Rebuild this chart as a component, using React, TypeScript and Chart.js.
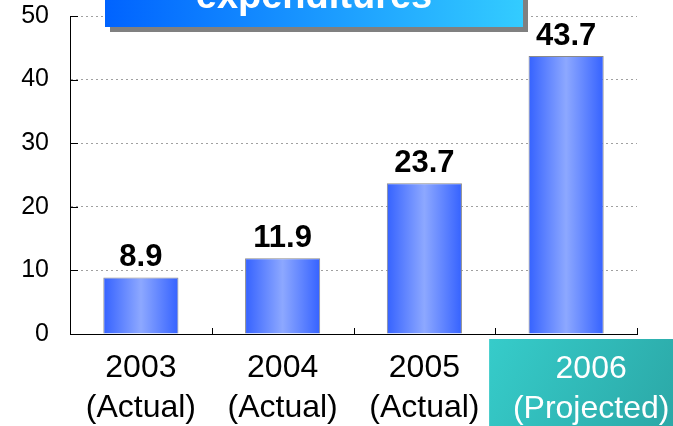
import React, { useEffect, useRef } from "react";
import { Chart, registerables } from "chart.js";

Chart.register(...registerables);

const categories: string[][] = [
  ["2003", "(Actual)"],
  ["2004", "(Actual)"],
  ["2005", "(Actual)"],
  ["2006", "(Projected)"],
];
const values: number[] = [8.9, 11.9, 23.7, 43.7];
const valueLabels: string[] = ["8.9", "11.9", "23.7", "43.7"];
const titleText = "expenditures";
const projectedIndex = 3;
const yMax = 50;
const yStep = 10;

const FONT = "'Liberation Sans', Arial, sans-serif";
const BAR_PCT = 0.53;

const decorPlugin = {
  id: "decor",
  beforeDraw(chart: any) {
    const { ctx, chartArea, scales } = chart;
    const x = scales.x;
    const c = x.getPixelForValue(projectedIndex);
    const left = c - 77;
    const top = chartArea.bottom + 5;
    const boxW = 204;
    const boxH = chart.height - top + 20;
    ctx.save();
    const g = ctx.createLinearGradient(left, top, left + boxW, top + boxH);
    g.addColorStop(0, "#36CCCA");
    g.addColorStop(1, "#2AA3A2");
    ctx.fillStyle = g;
    ctx.fillRect(left, top, boxW, boxH);
    ctx.fillStyle = "#ffffff";
    ctx.font = `32px ${FONT}`;
    ctx.textAlign = "center";
    ctx.textBaseline = "alphabetic";
    const tc = left + boxW / 2;
    ctx.fillText(categories[projectedIndex][0], tc, chartArea.bottom + 44);
    ctx.fillText(categories[projectedIndex][1], tc, chartArea.bottom + 84);
    ctx.restore();
  },
  afterDraw(chart: any) {
    const { ctx, chartArea, scales } = chart;
    const x = scales.x;
    const y = scales.y;
    ctx.save();
    ctx.strokeStyle = "#000";
    ctx.lineWidth = 1;
    y.ticks.forEach((t: any) => {
      const py = Math.round(y.getPixelForValue(t.value)) + 0.5;
      ctx.beginPath();
      ctx.moveTo(chartArea.left, py);
      ctx.lineTo(chartArea.left + 8, py);
      ctx.stroke();
    });
    const half = (chartArea.right - chartArea.left) / categories.length / 2;
    for (let i = 0; i < categories.length; i++) {
      const px = Math.round(x.getPixelForValue(i) + half) + 0.5;
      ctx.beginPath();
      ctx.moveTo(px, chartArea.bottom);
      ctx.lineTo(px, chartArea.bottom - 6);
      ctx.stroke();
    }
    const bl = 105, br = 523, bb = 27, bt = -40;
    ctx.fillStyle = "#808080";
    ctx.fillRect(bl + 5, bt + 5, br - bl, bb - bt);
    const g = ctx.createLinearGradient(bl, 0, br, 0);
    g.addColorStop(0, "#0063FF");
    g.addColorStop(1, "#33CCFF");
    ctx.fillStyle = g;
    ctx.fillRect(bl, bt, br - bl, bb - bt);
    ctx.fillStyle = "#ffffff";
    ctx.font = `bold 38px ${FONT}`;
    ctx.textAlign = "center";
    ctx.textBaseline = "alphabetic";
    ctx.fillText(titleText, (bl + br) / 2, 8);
    ctx.restore();
  },
  afterDatasetsDraw(chart: any) {
    const { ctx } = chart;
    const meta = chart.getDatasetMeta(0);
    ctx.save();
    ctx.fillStyle = "#000";
    ctx.font = `bold 31px ${FONT}`;
    ctx.textAlign = "center";
    ctx.textBaseline = "alphabetic";
    meta.data.forEach((el: any, i: number) => {
      ctx.fillText(valueLabels[i], el.x, el.y - 11);
    });
    ctx.restore();
  },
};

export default function App() {
  const ref = useRef<HTMLCanvasElement | null>(null);
  useEffect(() => {
    document.body.style.margin = "0";
    const canvas = ref.current!;
    const chart = new Chart(canvas, {
      type: "bar",
      data: {
        labels: categories,
        datasets: [
          {
            data: values,
            backgroundColor: (c: any) => {
              const ch = c.chart;
              const area = ch.chartArea;
              if (!area || !ch.scales.x) return "#5577FF";
              const cw = (area.right - area.left) / categories.length;
              const cx = ch.scales.x.getPixelForValue(c.dataIndex);
              const hw = (cw * BAR_PCT) / 2;
              const g = ch.ctx.createLinearGradient(cx - hw, 0, cx + hw, 0);
              g.addColorStop(0, "#3562FF");
              g.addColorStop(0.5, "#8DA8FF");
              g.addColorStop(1, "#3562FF");
              return g;
            },
            borderColor: "#8a8a8a",
            borderWidth: 1,
            barPercentage: BAR_PCT,
            categoryPercentage: 1,
          },
        ],
      },
      options: {
        responsive: false,
        animation: false,
        layout: { padding: { top: 16, right: 36, left: 0, bottom: 0 } },
        plugins: { legend: { display: false }, tooltip: { enabled: false }, title: { display: false } },
        scales: {
          x: {
            grid: { display: false, drawTicks: false },
            border: { display: true, color: "#000", width: 1 },
            ticks: {
              font: { family: FONT, size: 32, lineHeight: 1.25 },
              color: (c: any) => (c.index === projectedIndex ? "rgba(0,0,0,0)" : "#000"),
              padding: 14,
              maxRotation: 0,
              autoSkip: false,
            },
            afterFit: (s: any) => {
              s.height = 92;
              s.paddingLeft = 0;
              s.paddingRight = 0;
            },
          },
          y: {
            min: 0,
            max: yMax,
            grid: {
              color: (c: any) => (c.tick && c.tick.value === 0 ? "rgba(0,0,0,0)" : "#a0a0a0"),
              drawTicks: false,
              lineWidth: 1,
            },
            border: { display: true, color: "#000", width: 1, dash: [2, 3] },
            ticks: {
              stepSize: yStep,
              font: { family: FONT, size: 25 },
              color: "#000",
              padding: 21,
            },
            afterFit: (s: any) => {
              s.width = 70;
              s.paddingTop = 0;
              s.paddingBottom = 0;
            },
          },
        },
      },
      plugins: [decorPlugin],
    });
    return () => chart.destroy();
  }, []);
  return (
    <div style={{ position: "fixed", left: 0, top: 0, width: 673, height: 426 }}>
      <canvas ref={ref} width={673} height={426} />
    </div>
  );
}
